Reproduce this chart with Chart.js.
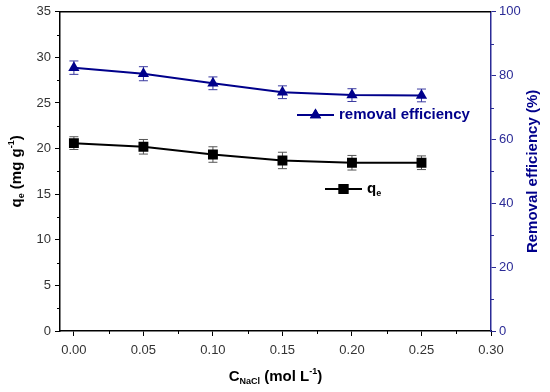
<!DOCTYPE html>
<html>
<head>
<meta charset="utf-8">
<script src="https://cdn.jsdelivr.net/npm/chart.js@4.4.1/dist/chart.umd.min.js"></script>
<style>
  html, body { margin: 0; padding: 0; background: #fff; }
  #wrap { width: 550px; height: 392px; position: relative; }
</style>
</head>
<body>
<div id="wrap"><canvas id="chart"></canvas></div>
<script>
// data
const concentrations = [0.00, 0.05, 0.10, 0.15, 0.20, 0.25];
const qeValues = [20.6, 20.2, 19.35, 18.7, 18.45, 18.45];
const qeErrors = [0.7, 0.8, 0.85, 0.9, 0.8, 0.75];
const removalValues = [82.5, 80.6, 77.6, 74.8, 73.9, 73.8];
const removalErrors = [2.1, 2.2, 2.0, 2.0, 2.0, 2.0];
const xTicks = [0.00, 0.05, 0.10, 0.15, 0.20, 0.25, 0.30];

const NAVY = '#00008b';
const AXIS_BLUE = '#2b2b96';
const TICK_TXT = '#333';
const FONT = '"Liberation Sans", Arial, sans-serif';

// rich text with sub/superscripts, centered at (cx, cy), optional rotation
function drawRich(ctx, parts, cx, cy, rot, color) {
    ctx.save();
    ctx.translate(cx, cy);
    ctx.rotate(rot || 0);
    ctx.fillStyle = color;
    ctx.textBaseline = 'middle';
    ctx.textAlign = 'left';
    let total = 0;
    parts.forEach(p => { ctx.font = p.font; total += ctx.measureText(p.t).width; });
    let x = -total / 2;
    parts.forEach(p => {
        ctx.font = p.font;
        ctx.fillText(p.t, x, p.dy || 0);
        x += ctx.measureText(p.t).width;
    });
    ctx.restore();
}

const big = 'bold 15px ' + FONT;
const small = 'bold 9px ' + FONT;

const extrasPlugin = {
    id: 'extras',
    beforeDatasetsDraw(chart) {
        const ctx = chart.ctx;
        const xs = chart.scales.x;
        // error bars (behind the markers)
        const bars = [
            { vals: qeValues, errs: qeErrors, axis: 'y', color: '#555' },
            { vals: removalValues, errs: removalErrors, axis: 'y2', color: '#3a3aa0' }
        ];
        bars.forEach(b => {
            const ys = chart.scales[b.axis];
            ctx.save();
            ctx.strokeStyle = b.color;
            ctx.lineWidth = 1;
            b.vals.forEach((v, i) => {
                const px = xs.getPixelForValue(concentrations[i]);
                const top = ys.getPixelForValue(v + b.errs[i]);
                const bot = ys.getPixelForValue(v - b.errs[i]);
                ctx.beginPath();
                ctx.moveTo(px, top); ctx.lineTo(px, bot);
                ctx.moveTo(px - 4.5, top); ctx.lineTo(px + 4.5, top);
                ctx.moveTo(px - 4.5, bot); ctx.lineTo(px + 4.5, bot);
                ctx.stroke();
            });
            ctx.restore();
        });
    },
    afterDraw(chart) {
        const ctx = chart.ctx;
        const a = chart.chartArea;
        const xs = chart.scales.x, y = chart.scales.y, y2 = chart.scales.y2;
        ctx.save();
        // top frame
        ctx.strokeStyle = '#000';
        ctx.lineWidth = 1.5;
        ctx.beginPath();
        ctx.moveTo(a.left, a.top); ctx.lineTo(a.right, a.top);
        ctx.stroke();
        // minor ticks
        ctx.lineWidth = 1;
        ctx.beginPath();
        for (let v = 0.025; v < 0.3; v += 0.05) {
            const px = Math.round(xs.getPixelForValue(v)) + 0.5;
            ctx.moveTo(px, a.bottom); ctx.lineTo(px, a.bottom + 3);
        }
        for (let v = 2.5; v < 35; v += 5) {
            const py = Math.round(y.getPixelForValue(v)) + 0.5;
            ctx.moveTo(a.left, py); ctx.lineTo(a.left - 3, py);
        }
        ctx.stroke();
        ctx.strokeStyle = AXIS_BLUE;
        ctx.beginPath();
        for (let v = 10; v < 100; v += 20) {
            const py = Math.round(y2.getPixelForValue(v)) + 0.5;
            ctx.moveTo(a.right, py); ctx.lineTo(a.right + 3, py);
        }
        ctx.stroke();
        ctx.restore();

        // axis titles
        drawRich(ctx, [
            { t: 'q', font: big }, { t: 'e', font: small, dy: 5 },
            { t: ' (mg g', font: big }, { t: '-1', font: small, dy: -5 }, { t: ')', font: big }
        ], 17, (a.top + a.bottom) / 2, -Math.PI / 2, '#000');
        drawRich(ctx, [{ t: 'Removal efficiency (%)', font: big }],
            533, (a.top + a.bottom) / 2, -Math.PI / 2, NAVY);
        drawRich(ctx, [
            { t: 'C', font: big }, { t: 'NaCl', font: small, dy: 5 },
            { t: ' (mol L', font: big }, { t: '-1', font: small, dy: -5 }, { t: ')', font: big }
        ], (a.left + a.right) / 2, 377, 0, '#000');

        // legend entries
        const legends = [
            { x: 297, y: 115, color: NAVY, style: 'triangle', r: 6.5, label: 'removal efficiency', txt: NAVY },
            { x: 325, y: 189, color: '#000', style: 'rect', r: 7, label: 'q', sub: 'e', txt: '#000' }
        ];
        legends.forEach(l => {
            ctx.save();
            ctx.strokeStyle = l.color;
            ctx.lineWidth = 2;
            ctx.beginPath();
            ctx.moveTo(l.x, l.y); ctx.lineTo(l.x + 37, l.y);
            ctx.stroke();
            ctx.fillStyle = l.color;
            Chart.helpers.drawPoint(ctx, { pointStyle: l.style, radius: l.r, borderWidth: 0 }, l.x + 18.5, l.y);
            ctx.fill();
            ctx.textBaseline = 'middle';
            ctx.fillStyle = l.txt;
            ctx.font = big;
            ctx.fillText(l.label, l.x + 42, l.y);
            if (l.sub) {
                const w = ctx.measureText(l.label).width;
                ctx.font = small;
                ctx.fillText(l.sub, l.x + 42 + w, l.y + 5);
            }
            ctx.restore();
        });
    }
};

new Chart(document.getElementById('chart'), {
    type: 'line',
    data: {
        datasets: [{
            label: 'qe',
            data: concentrations.map((c, i) => ({ x: c, y: qeValues[i] })),
            yAxisID: 'y',
            borderColor: '#000',
            backgroundColor: '#000',
            borderWidth: 2,
            pointStyle: 'rect',
            pointRadius: 7,
            pointBorderWidth: 0,
            tension: 0
        }, {
            label: 'removal efficiency',
            data: concentrations.map((c, i) => ({ x: c, y: removalValues[i] })),
            yAxisID: 'y2',
            borderColor: NAVY,
            backgroundColor: NAVY,
            borderWidth: 2,
            pointStyle: 'triangle',
            pointRadius: 6.5,
            pointBorderWidth: 0,
            tension: 0
        }]
    },
    options: {
        responsive: true,
        maintainAspectRatio: false,
        animation: false,
        layout: { padding: { top: 11, left: 0, right: 0, bottom: 0 } },
        plugins: { legend: { display: false }, tooltip: { enabled: false } },
        scales: {
            x: {
                type: 'linear',
                min: -0.01, max: 0.30,
                afterBuildTicks: s => { s.ticks = xTicks.map(v => ({ value: v })); },
                afterFit: s => { s.height = 61; },
                border: { color: '#000', width: 1.5 },
                grid: { drawOnChartArea: false, tickLength: 5, tickColor: '#000' },
                ticks: { color: TICK_TXT, font: { family: FONT, size: 13 }, padding: 7,
                         callback: v => v.toFixed(2) }
            },
            y: {
                position: 'left',
                min: 0, max: 35,
                afterFit: s => { s.width = 60; },
                border: { color: '#000', width: 1.5 },
                grid: { drawOnChartArea: false, tickLength: 5, tickColor: '#000' },
                ticks: { stepSize: 5, color: TICK_TXT, font: { family: FONT, size: 13 }, padding: 4 }
            },
            y2: {
                position: 'right',
                min: 0, max: 100,
                afterFit: s => { s.width = 59; },
                border: { color: AXIS_BLUE, width: 1.5 },
                grid: { drawOnChartArea: false, tickLength: 5, tickColor: AXIS_BLUE },
                ticks: { stepSize: 20, color: AXIS_BLUE, font: { family: FONT, size: 13 }, padding: 3 }
            }
        }
    },
    plugins: [extrasPlugin]
});
</script>
</body>
</html>
